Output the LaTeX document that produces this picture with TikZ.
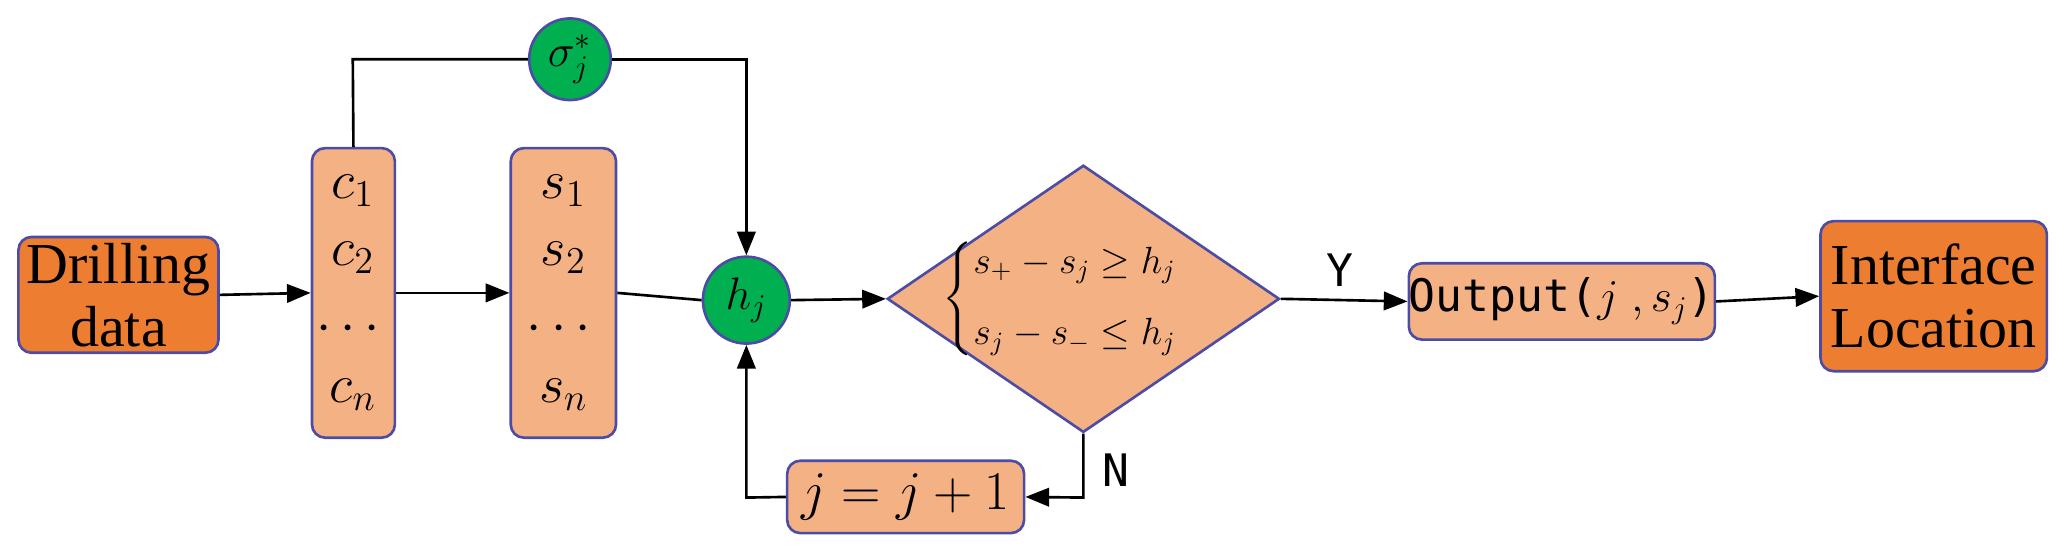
\documentclass[tikz,border=0pt]{standalone}
\usepackage{fontspec}
\setmainfont{Liberation Serif}
\newfontfamily\sansf{DejaVu Sans Mono}
\usepackage{amsmath}
\usetikzlibrary{shapes.geometric,arrows.meta}
\begin{document}
\begin{tikzpicture}[x=0.5pt,y=-0.5pt,
  box/.style={draw=blue!50!black!70,line width=1pt,rounded corners=5pt,inner sep=0pt},
  circ/.style={circle,draw=blue!50!black!70,line width=1pt,fill={rgb,255:red,0;green,176;blue,80},minimum size=31pt,inner sep=0pt},
  arr/.style={line width=1pt,-{Triangle[length=9pt,width=7pt]}},
  ln/.style={line width=1pt},
  big/.style={font=\fontsize{22}{24}\selectfont}]
\useasboundingbox (0,0) rectangle (1568,424);
\node[box,fill={rgb,255:red,237;green,125;blue,49},minimum width=76pt,minimum height=44pt,align=center,big] (dd) at (90,224) {Drilling\\data};
\node[box,fill={rgb,255:red,244;green,177;blue,131},minimum width=31.5pt,minimum height=110pt] (cb) at (268.5,222.5) {};
\node[box,fill={rgb,255:red,244;green,177;blue,131},minimum width=40pt,minimum height=110pt] (sb) at (428,222.5) {};
\node[big] (c1) at (268,145) {$c_1$};
\node[big] (c2) at (268,196) {$c_2$};
\node[big] (c3) at (268,250) {$\cdots$};
\node[big] (c4) at (268,300) {$c_n$};
\node[big] (s1) at (428,145) {$s_1$};
\node[big] (s2) at (428,196) {$s_2$};
\node[big] (s3) at (428,250) {$\cdots$};
\node[big] (s4) at (428,300) {$s_n$};
\node[circ,font=\fontsize{18}{20}\selectfont] (sig) at (433,45) {$\mathrm{\sigma}_j^{*}$};
\node[circ,minimum size=33pt,font=\fontsize{17}{19}\selectfont] (h) at (567,228) {$h_j$};
\node[diamond,draw=blue!50!black!70,line width=1pt,fill={rgb,255:red,244;green,177;blue,131},minimum width=149pt,minimum height=101.5pt,inner sep=0pt,aspect=1.47] (dia) at (823,227) {};
\node[font=\fontsize{14}{16}\selectfont] (cond) at (820,227) {$\begin{cases} s_{+}-s_j\ge h_j\\[8pt] s_j-s_{-}\le h_j\end{cases}$};
\node[box,fill={rgb,255:red,244;green,177;blue,131},minimum width=111.5pt,minimum height=29pt,font=\fontsize{17}{19}\selectfont] (out) at (1186.5,229) {{\sansf Output(}$j\;,s_j${\sansf )}};
\node[box,fill={rgb,255:red,237;green,125;blue,49},minimum width=86pt,minimum height=57pt,align=center,big] (il) at (1469,225) {Interface\\Location};
\node[box,fill={rgb,255:red,244;green,177;blue,131},minimum width=90pt,minimum height=27.5pt,big] (jb) at (688,377.5) {$j=j+1$};
\node[font=\sansf\fontsize{17}{19}\selectfont] (Y) at (1018,205) {Y};
\node[font=\sansf\fontsize{17}{19}\selectfont] (N) at (848,357) {N};
\coordinate (ct) at (268,45);
\coordinate (st) at (567,45);
\coordinate (db) at (823,378);
\coordinate (jl) at (567,378);
\draw[arr] (dd.east) -- (cb.west);
\draw[arr] (cb.east) -- (sb.west);
\draw[ln] (sb.east) -- (h.west);
\draw[arr] (h.east) -- (dia.west);
\draw[arr] (dia.east) -- (out.west);
\draw[arr] (out.east) -- (il.west);
\draw[ln] (cb.north) -- (ct) -- (sig.west);
\draw[arr] (sig.east) -- (st) -- (h.north);
\draw[arr] (dia.south) -- (db) -- (jb.east);
\draw[arr] (jb.west) -- (jl) -- (h.south);
\end{tikzpicture}
\end{document}
